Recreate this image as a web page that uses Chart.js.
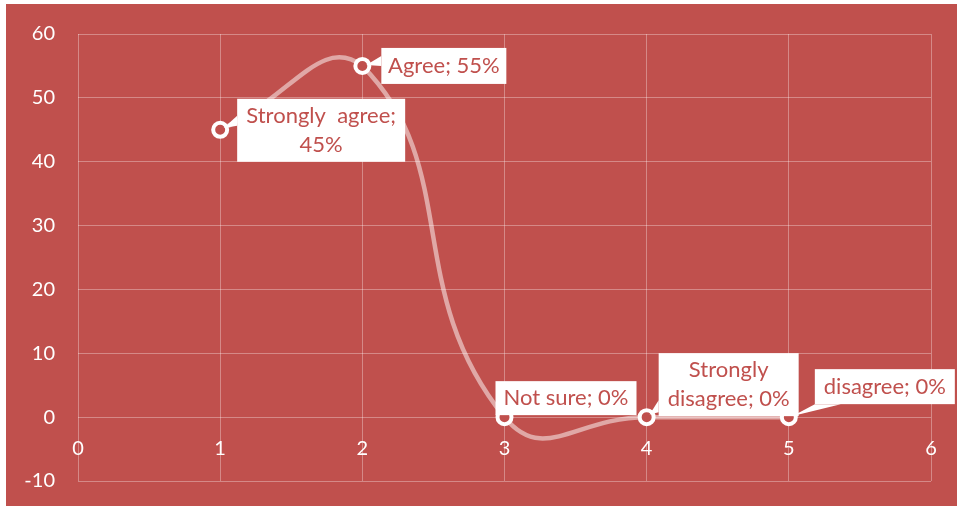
<!DOCTYPE html>
<html>
<head>
<meta charset="utf-8">
<title>Responses</title>
<script src="https://cdn.jsdelivr.net/npm/chart.js@4.4.1/dist/chart.umd.min.js"></script>
<style>
  body { margin: 0; background: #ffffff; }
  #wrap {
    position: absolute;
    left: 6px;
    top: 4px;
    width: 951px;
    height: 502px;
    background: #c0504d;
  }
</style>
</head>
<body>
<div id="wrap"><canvas id="chart-responses" width="951" height="502"></canvas></div>
<script>
// answers and their share of respondents
const categories = ["Strongly  agree", "Agree", "Not sure", "Strongly disagree", "disagree"];
const xValues = [1, 2, 3, 4, 5];
const percentValues = [45, 55, 0, 0, 0];
const xTicks = [0, 1, 2, 3, 4, 5, 6];
const yTicks = [-10, 0, 10, 20, 30, 40, 50, 60];

const red = "#c0504d";
const gridColor = "rgba(255, 255, 255, 0.33)";
const tickFont = { family: "Lato", size: 20 };

// where each callout box sits relative to its point, and where its pointer meets the box
const calloutLayout = [
  { dx: 17, dy: -31, w: 168, h: 63, wrap: "value", base: [[0, 17], [0, 27]] },
  { dx: 19, dy: -18, w: 125, h: 36, wrap: "none", base: [[0, 8], [0, 18]] },
  { dx: -9, dy: -36, w: 141, h: 34, wrap: "none", base: null },
  { dx: 12, dy: -64, w: 140, h: 63, wrap: "word", base: [[0, 47], [0, 59]] },
  { dx: 26, dy: -48, w: 140, h: 35, wrap: "none", base: [[0, 35], [26, 35]] },
];

function calloutLines(i) {
  const cat = categories[i];
  const val = percentValues[i] + "%";
  const mode = calloutLayout[i].wrap;
  if (mode === "value") return [cat + ";", val];
  if (mode === "word") {
    const cut = cat.indexOf(" ");
    return [cat.slice(0, cut), cat.slice(cut + 1) + "; " + val];
  }
  return [cat + "; " + val];
}

const callouts = {
  id: "callouts",
  afterDatasetsDraw(chart) {
    const c = chart.ctx;
    const meta = chart.getDatasetMeta(0);
    c.save();
    c.font = "22px Lato";
    c.textAlign = "center";
    c.textBaseline = "middle";
    meta.data.forEach((pt, i) => {
      const lay = calloutLayout[i];
      const bx = pt.x + lay.dx;
      const by = pt.y + lay.dy;
      c.fillStyle = "#ffffff";
      if (lay.base) {
        const [a, b] = lay.base;
        const mx = bx + (a[0] + b[0]) / 2 - pt.x;
        const my = by + (a[1] + b[1]) / 2 - pt.y;
        const len = Math.hypot(mx, my);
        c.beginPath();
        c.moveTo(pt.x + (mx / len) * 4, pt.y + (my / len) * 4);
        c.lineTo(bx + a[0], by + a[1]);
        c.lineTo(bx + b[0], by + b[1]);
        c.closePath();
        c.fill();
      }
      c.fillRect(bx, by, lay.w, lay.h);
      c.fillStyle = red;
      const lines = calloutLines(i);
      const lh = 29;
      const top = by + lay.h / 2 - ((lines.length - 1) * lh) / 2;
      lines.forEach((ln, k) => c.fillText(ln, bx + lay.w / 2, top + k * lh));
    });
    c.restore();
  },
};

const chartData = {
  datasets: [
    {
      data: xValues.map((x, i) => ({ x: x, y: percentValues[i] })),
      borderColor: "rgba(255, 255, 255, 0.5)",
      borderWidth: 4.5,
      tension: 0.5,
      pointRadius: 7,
      pointBorderWidth: 4,
      pointBorderColor: "#ffffff",
      pointBackgroundColor: red,
      clip: false,
    },
  ],
};

// keep tick labels from pushing the plot area inwards
function noScalePadding(s) {
  s.paddingTop = 0;
  s.paddingBottom = 0;
  s.paddingLeft = 0;
  s.paddingRight = 0;
}

const config = {
  type: "line",
  data: chartData,
  options: {
    responsive: false,
    animation: false,
    layout: { padding: { top: 30, right: 26, bottom: 25, left: 0 } },
    plugins: {
      legend: { display: false },
      tooltip: { enabled: false },
    },
    scales: {
      x: {
        type: "linear",
        min: 0,
        max: 6,
        position: { y: 0 },
        afterFit: (s) => { s.height = 0; noScalePadding(s); },
        afterBuildTicks: (s) => { s.ticks = xTicks.map((v) => ({ value: v })); },
        grid: { color: gridColor, drawTicks: false },
        border: { display: false },
        ticks: { color: "#ffffff", font: tickFont, padding: 19 },
      },
      y: {
        min: -10,
        max: 60,
        afterFit: (s) => { s.width = 72; noScalePadding(s); },
        afterBuildTicks: (s) => { s.ticks = yTicks.map((v) => ({ value: v })); },
        grid: { color: gridColor, drawTicks: false },
        border: { display: false },
        ticks: { color: "#ffffff", font: tickFont, padding: 23 },
      },
    },
  },
  plugins: [callouts],
};

const ctx = document.getElementById("chart-responses");
let chart = new Chart(ctx, config);
</script>
</body>
</html>
